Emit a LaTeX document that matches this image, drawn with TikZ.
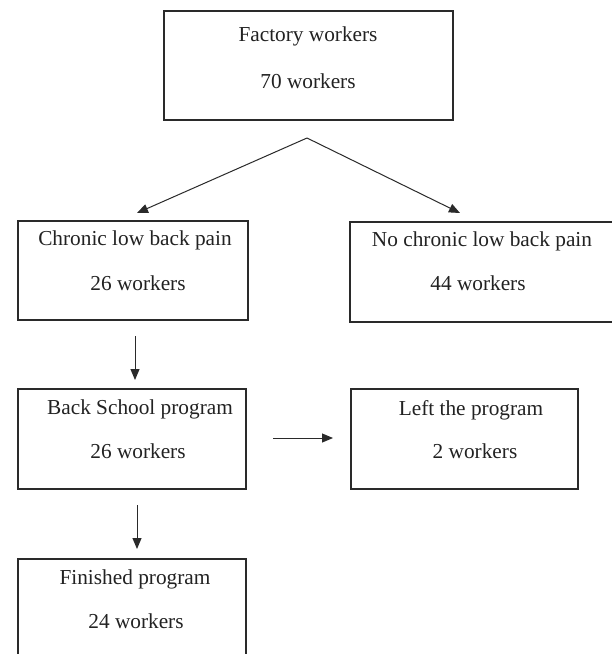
\documentclass[tikz,border=0pt]{standalone}
\usepackage{fontspec}
\setmainfont{Liberation Serif}
\usetikzlibrary{arrows.meta}
\definecolor{ink}{HTML}{222222}
\definecolor{edge}{HTML}{2A2A2A}
\begin{document}
\begin{tikzpicture}[x=1pt,y=-1pt,
  box/.style={draw=edge,line width=1.3pt,rectangle,inner sep=0pt,outer sep=0pt,fill=none},
  lbl/.style={anchor=base,inner sep=0pt,text=ink,font=\fontsize{21.3pt}{25pt}\selectfont},
  conn/.style={draw=edge,line width=1pt,-{Triangle[length=11pt,width=9pt]}}]
\useasboundingbox (0,0) rectangle (612,654);
\clip (0,0) rectangle (612,654);
\fill[white] (0,0) rectangle (612,654);
% boxes
\node[box,minimum width=289pt,minimum height=109pt] (factory) at (308.5,65.5) {};
\node[box,minimum width=230pt,minimum height=99pt] (chronic) at (133,270.5) {};
\node[box,minimum width=263pt,minimum height=100pt] (nochronic) at (481.5,272) {};
\node[box,minimum width=228pt,minimum height=100pt] (backschool) at (132,439) {};
\node[box,minimum width=227pt,minimum height=100pt] (left) at (464.5,439) {};
\node[box,minimum width=228pt,minimum height=100pt] (finished) at (132,609) {};
% texts
\node[lbl] (factoryA) at (308,41) {Factory workers};
\node[lbl] (factoryB) at (308,88) {70 workers};
\node[lbl] (chronicA) at (135,245) {Chronic low back pain};
\node[lbl] (chronicB) at (138,290) {26 workers};
\node[lbl] (nochronicA) at (482,246) {No chronic low back pain};
\node[lbl] (nochronicB) at (478,290) {44 workers};
\node[lbl] (backschoolA) at (140,414) {Back School program};
\node[lbl] (backschoolB) at (138,458) {26 workers};
\node[lbl] (leftA) at (471,415) {Left the program};
\node[lbl] (leftB) at (475,458) {2 workers};
\node[lbl] (finishedA) at (135,584) {Finished program};
\node[lbl] (finishedB) at (136,628) {24 workers};
% connector points
\coordinate (apex) at (307,138);
\coordinate (tipL) at (137,213);
\coordinate (tipR) at (460,213);
\coordinate (d1s) at (135,336);
\coordinate (d1e) at (135,380);
\coordinate (rs) at (273,438);
\coordinate (re) at (333,438);
\coordinate (d2s) at (137,505);
\coordinate (d2e) at (137,549);
% connectors
\draw[conn] (apex) -- (tipL);
\draw[conn] (apex) -- (tipR);
\draw[conn] (d1s) -- (d1e);
\draw[conn] (rs) -- (re);
\draw[conn] (d2s) -- (d2e);
\end{tikzpicture}
\end{document}
